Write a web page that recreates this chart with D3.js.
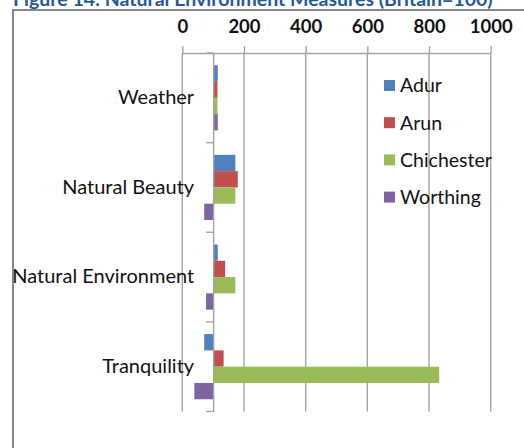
<!DOCTYPE html>
<html>
<head>
<meta charset="utf-8">
<script src="https://cdn.jsdelivr.net/npm/d3@7"></script>
<style>
    body { margin: 0; background: #fff; }
    svg { display: block; }
    text { font-family: Lato, "Open Sans", sans-serif; }
</style>
</head>
<body>
<div id="chart"></div>
<script>
"use strict";

// Data (Britain = 100)
const categories = ["Weather", "Natural Beauty", "Natural Environment", "Tranquility"];
const seriesNames = ["Adur", "Arun", "Chichester", "Worthing"];
const adur = [115, 172, 115, 71];
const arun = [114, 180, 139, 134];
const chichester = [114, 172, 172, 833];
const worthing = [115, 71, 77, 39];
const valueTicks = [0, 200, 400, 600, 800, 1000];
const baseline = 100;
const titleText = "Figure 14: Natural Environment Measures (Britain=100)";

const colors = ["#4f81bd", "#c0504d", "#9bbb59", "#8064a2"];
const seriesValues = [adur, arun, chichester, worthing];

const W = 524, H = 448;
const plot = { left: 182.3, right: 490.7, top: 53, bottom: 411.5 };

const svg = d3.select("#chart")
    .append("svg")
    .attr("width", W)
    .attr("height", H);

// chart frame (only top and left edges show inside the crop)
svg.append("path")
    .attr("d", `M13,${H + 5}V10H${W + 5}`)
    .attr("fill", "none")
    .attr("stroke", "#878787")
    .attr("stroke-width", 2);

// title, mostly cut off by the top edge as in the source
svg.append("text")
    .attr("x", 13)
    .attr("y", 6)
    .attr("font-size", 19.5)
    .attr("font-weight", "bold")
    .attr("fill", "#24589b")
    .text(titleText);

// Scales
const x = d3.scaleLinear()
    .domain([0, 1000])
    .range([plot.left, plot.right]);

const y = d3.scaleBand()
    .domain(categories)
    .range([plot.top, plot.bottom])
    .padding(0);

const ySub = d3.scaleBand()
    .domain(seriesNames)
    .range([0, y.bandwidth()])
    .paddingInner(0)
    .paddingOuter(0.75);

// Gridlines
svg.append("g")
    .selectAll("line")
    .data(valueTicks)
    .join("line")
    .attr("x1", d => x(d))
    .attr("x2", d => x(d))
    .attr("y1", plot.top)
    .attr("y2", plot.bottom)
    .attr("stroke", "#a3a3a3")
    .attr("stroke-width", 1.4);

// Value axis on top
const xAxis = svg.append("g")
    .attr("transform", `translate(0,${plot.top})`)
    .call(d3.axisTop(x)
        .tickValues(valueTicks)
        .tickFormat(d3.format("d"))
        .tickSizeInner(7)
        .tickSizeOuter(0)
        .tickPadding(13));
xAxis.selectAll("path, line").attr("stroke", "#a3a3a3").attr("stroke-width", 1.4);
xAxis.selectAll("text")
    .attr("font-family", "Lato, sans-serif")
    .attr("font-size", 18.5)
    .attr("font-weight", "bold")
    .attr("fill", "#111");

// Bars, measured from the Britain = 100 baseline
const rows = [];
categories.forEach((c, i) => {
    seriesNames.forEach((s, j) => {
        rows.push({ cat: c, series: s, value: seriesValues[j][i], color: colors[j] });
    });
});

svg.append("g")
    .selectAll("rect")
    .data(rows)
    .join("rect")
    .attr("x", d => Math.min(x(baseline), x(d.value)))
    .attr("width", d => Math.abs(x(d.value) - x(baseline)))
    .attr("y", d => y(d.cat) + ySub(d.series))
    .attr("height", ySub.bandwidth())
    .attr("fill", d => d.color);

// Category axis crossing at 100
const yAxis = svg.append("g")
    .attr("transform", `translate(${x(baseline)},0)`)
    .call(d3.axisLeft(y).tickSizeInner(0).tickSizeOuter(0).tickPadding(19));
yAxis.select(".domain").attr("stroke", "#a3a3a3").attr("stroke-width", 1.4);
yAxis.selectAll("text")
    .attr("font-family", "Lato, sans-serif")
    .attr("font-size", 20)
    .attr("fill", "#111");

// tick marks between categories
const bounds = categories.map(c => y(c)).concat([plot.bottom]);
svg.append("g")
    .selectAll("line")
    .data(bounds)
    .join("line")
    .attr("x1", x(baseline) - 7)
    .attr("x2", x(baseline))
    .attr("y1", d => d)
    .attr("y2", d => d)
    .attr("stroke", "#a3a3a3")
    .attr("stroke-width", 1.4);

// Legend
const legend = svg.append("g")
    .selectAll("g")
    .data(seriesNames)
    .join("g")
    .attr("transform", (d, i) => `translate(384,${85.5 + i * 37.2})`);

legend.append("rect")
    .attr("x", 0)
    .attr("y", -5.5)
    .attr("width", 11)
    .attr("height", 11)
    .attr("fill", (d, i) => colors[i]);

legend.append("text")
    .attr("x", 16)
    .attr("dy", "0.35em")
    .attr("font-size", 19.5)
    .attr("fill", "#111")
    .text(d => d);
</script>
</body>
</html>
